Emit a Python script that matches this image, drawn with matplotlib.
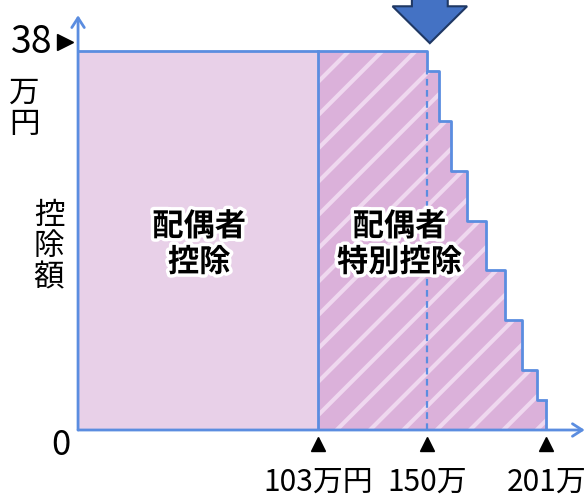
import matplotlib.pyplot as plt
import matplotlib.patheffects as pe
from matplotlib.patches import Polygon

plt.rcParams['font.family'] = ['Noto Sans CJK JP', 'DejaVu Sans']
plt.rcParams['hatch.linewidth'] = 3

# spouse income (万円) and deduction amount (万円)
basic_limit = 103
basic_amount = 38
special_edges = [103, 150, 155, 160, 166.8, 175.2, 183.2, 190.4, 197.2, 201]
special_amount = [38, 36, 31, 26, 21, 16, 11, 6, 3]
tick_pos = [103, 150, 201]
tick_labels = ["103万円", "150万", "201万"]

blue = "#5b8de0"
fig = plt.figure(figsize=(5.88, 4.97), dpi=100)
ax = fig.add_axes([0, 0, 1, 1])
ax.set_xlim(-33.5, 218.9)
ax.set_ylim(-6.72, 43.13)
ax.axis("off")

# basic deduction block
ax.fill_between([0, basic_limit], [basic_amount, basic_amount], 0,
                facecolor="#e8d0e8", linewidth=0, zorder=1)

# special deduction, hatched steps
y_fill = special_amount + [special_amount[-1]]
ax.fill_between(special_edges, y_fill, 0, step="post",
                facecolor="#dbb1da", edgecolor="#efd8ef", hatch="/",
                linewidth=0, zorder=1)

# outline
ax.plot([0, basic_limit], [basic_amount, basic_amount], color=blue, lw=2, zorder=3)
ax.step(special_edges, y_fill, where="post", color=blue, lw=2, zorder=3)
ax.vlines(special_edges[-1], 0, special_amount[-1], color=blue, lw=2, zorder=3)
ax.vlines(basic_limit, 0, basic_amount, color=blue, lw=2, zorder=3)
ax.vlines(150, 0, 36, color=blue, lw=1.6, linestyles=(0, (3, 2)), zorder=3)

# axes with arrows
arr = dict(arrowstyle="->,head_length=0.7,head_width=0.45", color=blue, lw=2,
           shrinkA=0, shrinkB=0)
ax.annotate("", xy=(0, 41.6), xytext=(0, 0), arrowprops=arr, zorder=4)
ax.annotate("", xy=(217.5, 0), xytext=(0, 0), arrowprops=arr, zorder=4)

# big arrow on top
cx = 151
arrow_pts = [(cx - 7.7, 44), (cx + 7.7, 44), (cx + 7.7, 42.5), (cx + 16, 42.5),
             (cx, 38.8), (cx - 16, 42.5), (cx - 7.7, 42.5)]
ax.add_patch(Polygon(arrow_pts, closed=True, facecolor="#4472c4",
                     edgecolor="#1f3864", lw=1.5, zorder=5))

# y labels
ax.text(-11, 38.9, "38", fontsize=27, ha="right", va="center")
ax.plot(-5.4, 38.9, marker=">", color="black", ms=11)
ax.text(-23, 32.2, "万\n円", fontsize=22, ha="center", va="center", linespacing=1.0)
ax.text(-12.5, 18.4, "控\n除\n額", fontsize=22, ha="center", va="center", linespacing=1.0)
ax.text(-7.5, -1.6, "0", fontsize=25, ha="center", va="center")

# x ticks
ax.plot(tick_pos, [-1.4] * len(tick_pos), linestyle="none", marker="^",
        color="black", ms=10)
for x, lab in zip(tick_pos, tick_labels):
    ax.text(x, -5.2, lab, fontsize=21.5, ha="center", va="center")

# region labels
outline = [pe.withStroke(linewidth=5, foreground="white")]
ax.text(52, 18.6, "配偶者\n控除", fontsize=22.5, ha="center", va="center",
        fontweight="bold", linespacing=1.15, path_effects=outline, zorder=6)
ax.text(138, 18.6, "配偶者\n特別控除", fontsize=22.5, ha="center", va="center",
        fontweight="bold", linespacing=1.15, path_effects=outline, zorder=6)

fig.savefig("out.png", dpi=100)
